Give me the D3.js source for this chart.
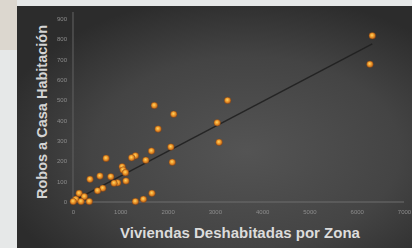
<!DOCTYPE html>
<html>
<head>
<meta charset="utf-8">
<script src="https://cdn.jsdelivr.net/npm/d3@7"></script>
<style>
  body { margin: 0; background: #e4e4e2; }
  svg { display: block; }
</style>
</head>
<body>
<svg id="chart"></svg>
<script>
// values (viviendas deshabitadas, robos)
var viviendas = [6330, 6280, 3270, 1720, 2130, 1800, 3050, 3090, 2070, 1660,
                 700, 1320, 1240, 1540, 2100, 1040, 1060, 1110, 360, 570,
                 800, 945, 1120, 870, 630, 520, 130, 60, 240, 345,
                 5, 170, 1320, 1490, 1670];
var robos = [815, 675, 497, 472, 429, 356, 387, 291, 268, 248,
             212, 225, 215, 203, 193, 171, 155, 142, 109, 125,
             122, 92, 101, 90, 65, 53, 40, 11, 24, 0,
             0, 0, 0, 11, 40];
var xTicks = [0, 1000, 2000, 3000, 4000, 5000, 6000, 7000];
var yTicks = [0, 100, 200, 300, 400, 500, 600, 700, 800, 900];
// trend line (start / end) as it shows in the picture
var trendX = [0, 6330];
var trendY = [2, 775];

var width = 412, height = 248;
var svg = d3.select('#chart').attr('width', width).attr('height', height);
var defs = svg.append('defs');

// background of the slide photo
var bg = defs.append('radialGradient').attr('id', 'bg')
  .attr('cx', '58%').attr('cy', '60%').attr('r', '65%');
bg.append('stop').attr('offset', '0%').attr('stop-color', '#545454');
bg.append('stop').attr('offset', '60%').attr('stop-color', '#444444');
bg.append('stop').attr('offset', '100%').attr('stop-color', '#2c2c2c');

var dot = defs.append('radialGradient').attr('id', 'dot')
  .attr('cx', '45%').attr('cy', '42%').attr('r', '60%');
dot.append('stop').attr('offset', '0%').attr('stop-color', '#ffd864');
dot.append('stop').attr('offset', '45%').attr('stop-color', '#f09a2c');
dot.append('stop').attr('offset', '100%').attr('stop-color', '#b05a18');

var soft = defs.append('filter').attr('id', 'soft');
soft.append('feGaussianBlur').attr('stdDeviation', 0.5);

svg.append('rect').attr('width', width).attr('height', height).attr('fill', '#e6e8e8');
svg.append('rect').attr('width', 17).attr('height', 50).attr('fill', '#dcd7cf');
svg.append('rect').attr('x', 17).attr('y', 6).attr('width', width - 17).attr('height', height - 6)
  .attr('fill', 'url(#bg)');

var x = d3.scaleLinear().domain([0, 7000]).range([73, 404]);
var y = d3.scaleLinear().domain([0, 900]).range([201.5, 18.5]);

// axis lines
svg.append('line').attr('x1', x(0)).attr('x2', x(0)).attr('y1', 12).attr('y2', y(0))
  .attr('stroke', '#5c5c5c').attr('stroke-width', 1.2);
svg.append('line').attr('x1', x(0)).attr('x2', x(7000)).attr('y1', y(0) + 0.5).attr('y2', y(0) + 0.5)
  .attr('stroke', '#6e6e6e').attr('stroke-width', 1.2);

// tick labels
var yAxis = svg.append('g').attr('transform', 'translate(67,0)')
  .call(d3.axisLeft(y).tickValues(yTicks).tickSize(0).tickPadding(0).tickFormat(d3.format('d')))
  .attr('filter', 'url(#soft)');
var xAxis = svg.append('g').attr('transform', 'translate(0,210)')
  .call(d3.axisBottom(x).tickValues(xTicks).tickSize(0).tickPadding(0).tickFormat(d3.format('d')))
  .attr('filter', 'url(#soft)');
[yAxis, xAxis].forEach(function(g){
  g.select('.domain').remove();
  g.selectAll('text').attr('fill', '#8c8c8c')
    .style('font-family', 'Liberation Sans, Arial, sans-serif')
    .style('font-size', '6px');
});

// trend line
svg.append('line')
  .attr('x1', x(trendX[0])).attr('y1', y(trendY[0]))
  .attr('x2', x(trendX[1])).attr('y2', y(trendY[1]))
  .attr('stroke', '#1e1e1e').attr('stroke-width', 1.6).attr('opacity', 0.85);

// points
svg.selectAll('circle.pt')
  .data(viviendas)
  .enter()
  .append('circle')
  .attr('class', 'pt')
  .attr('cx', function(d){ return x(d); })
  .attr('cy', function(d, i){ return y(robos[i]); })
  .attr('r', 3.3)
  .attr('fill', 'url(#dot)')
  .attr('stroke', '#7a3f12').attr('stroke-width', 0.4);

// axis titles
svg.append('text')
  .attr('x', 240).attr('y', 238)
  .attr('text-anchor', 'middle')
  .attr('fill', '#dcdcdc')
  .style('font-family', 'Liberation Sans, Arial, sans-serif')
  .style('font-weight', 'bold').style('font-size', '15px')
  .text('Viviendas Deshabitadas por Zona');

svg.append('text')
  .attr('transform', 'translate(47,112) rotate(-90)')
  .attr('text-anchor', 'middle')
  .attr('fill', '#d4d4d4')
  .style('font-family', 'Liberation Sans, Arial, sans-serif')
  .style('font-weight', 'bold').style('font-size', '14.5px')
  .text('Robos a Casa Habitación');
</script>
</body>
</html>
